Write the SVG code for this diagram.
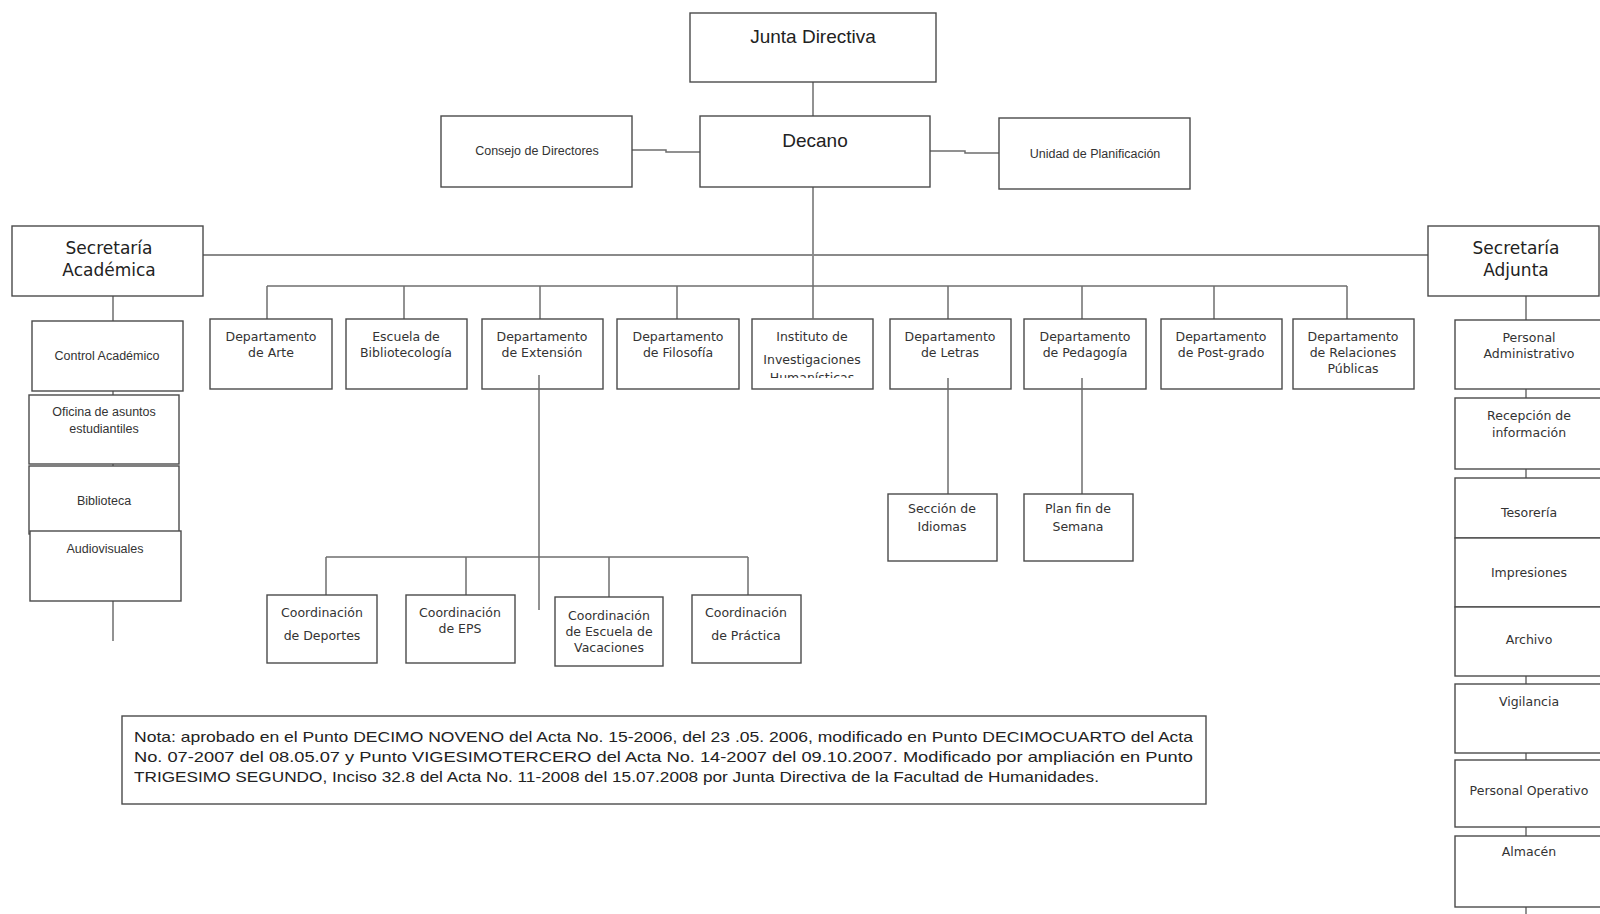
<svg xmlns="http://www.w3.org/2000/svg" width="1600" height="914" viewBox="0 0 1600 914">
<style>
.box{fill:#fff;stroke:#4a4a4a;stroke-width:1.4}
.ln{fill:none;stroke:#6e6e6e;stroke-width:1.5}
.big{stroke:#8a8a8a;stroke-width:2.2}
.dj{font-family:"DejaVu Sans",Verdana,sans-serif;font-size:12.5px;fill:#333;text-anchor:middle}
.ls{font-family:"Liberation Sans",Arial,sans-serif;font-size:12.5px;fill:#333;text-anchor:middle}
.h1{font-family:"Liberation Sans",Arial,sans-serif;font-size:19px;fill:#222;text-anchor:middle}
.h2{font-family:"DejaVu Sans",Verdana,sans-serif;font-size:17px;fill:#222;text-anchor:middle}
.note{font-family:"Liberation Sans",Arial,sans-serif;font-size:14.5px;fill:#222}
</style>
<defs>
<clipPath id="clipInst"><rect x="752" y="319" width="122" height="59"/></clipPath>
</defs>
<rect width="1600" height="914" fill="#fff"/>

<g id="connectors">
<line class="ln" x1="813" y1="82" x2="813" y2="116"/>
<polyline class="ln" points="632,150 666,150 666,152 700,152"/>
<polyline class="ln" points="930,151 965,151 965,153 999,153"/>
<line class="ln" x1="813" y1="187" x2="813" y2="286"/>
<line class="ln big" x1="203" y1="255" x2="1428" y2="255"/>
<line class="ln" x1="267" y1="286" x2="1347" y2="286"/>
<line class="ln" x1="267" y1="286" x2="267" y2="319"/>
<line class="ln" x1="404" y1="286" x2="404" y2="319"/>
<line class="ln" x1="540" y1="286" x2="540" y2="319"/>
<line class="ln" x1="677" y1="286" x2="677" y2="319"/>
<line class="ln" x1="948" y1="286" x2="948" y2="319"/>
<line class="ln" x1="1082" y1="286" x2="1082" y2="319"/>
<line class="ln" x1="1214" y1="286" x2="1214" y2="319"/>
<line class="ln" x1="1347" y1="286" x2="1347" y2="319"/>
<line class="ln" x1="113" y1="296" x2="113" y2="641"/>
<line class="ln" x1="1526" y1="296" x2="1526" y2="914"/>
<line class="ln" x1="326" y1="557" x2="748" y2="557"/>
<line class="ln" x1="326" y1="557" x2="326" y2="595"/>
<line class="ln" x1="466" y1="557" x2="466" y2="595"/>
<line class="ln" x1="609" y1="557" x2="609" y2="597"/>
<line class="ln" x1="748" y1="557" x2="748" y2="595"/>
</g>

<g id="junta"><rect class="box" x="690" y="13" width="246" height="69"/><text class="h1" x="813" y="43">Junta Directiva</text></g>
<g id="decano"><rect class="box" x="700" y="116" width="230" height="71"/><text class="h1" x="815" y="147">Decano</text></g>
<g id="consejo"><rect class="box" x="441" y="116" width="191" height="71"/><text class="ls" x="537" y="155">Consejo de Directores</text></g>
<g id="unidad"><rect class="box" x="999" y="118" width="191" height="71"/><text class="ls" x="1095" y="158">Unidad de Planificación</text></g>

<g id="sec-academica"><rect class="box" x="12" y="226" width="191" height="70"/><text class="h2" x="109" y="254">Secretaría</text><text class="h2" x="109" y="276">Académica</text></g>
<g id="sec-adjunta"><rect class="box" x="1428" y="226" width="171" height="70"/><text class="h2" x="1516" y="254">Secretaría</text><text class="h2" x="1516" y="276">Adjunta</text></g>

<g id="dep-arte"><rect class="box" x="210" y="319" width="122" height="70"/><text class="dj" x="271" y="341">Departamento</text><text class="dj" x="271" y="357">de Arte</text></g>
<g id="esc-biblio"><rect class="box" x="346" y="319" width="121" height="70"/><text class="dj" x="406" y="341">Escuela de</text><text class="dj" x="406" y="357">Bibliotecología</text></g>
<g id="dep-extension"><rect class="box" x="482" y="319" width="121" height="70"/><text class="dj" x="542" y="341">Departamento</text><text class="dj" x="542" y="357">de Extensión</text><line class="ln" x1="539" y1="375" x2="539" y2="610"/></g>
<g id="dep-filosofia"><rect class="box" x="617" y="319" width="122" height="70"/><text class="dj" x="678" y="341">Departamento</text><text class="dj" x="678" y="357">de Filosofía</text></g>
<g id="instituto"><rect class="box" x="752" y="319" width="121" height="70"/><line class="ln" x1="813" y1="286" x2="813" y2="319"/><g clip-path="url(#clipInst)"><text class="dj" x="812" y="341">Instituto de</text><text class="dj" x="812" y="364">Investigaciones</text><text class="dj" x="812" y="382">Humanísticas</text></g></g>
<g id="dep-letras"><rect class="box" x="890" y="319" width="121" height="70"/><text class="dj" x="950" y="341">Departamento</text><text class="dj" x="950" y="357">de Letras</text><line class="ln" x1="948" y1="378" x2="948" y2="494"/></g>
<g id="dep-pedagogia"><rect class="box" x="1024" y="319" width="122" height="70"/><text class="dj" x="1085" y="341">Departamento</text><text class="dj" x="1085" y="357">de Pedagogía</text><line class="ln" x1="1082" y1="378" x2="1082" y2="494"/></g>
<g id="dep-postgrado"><rect class="box" x="1161" y="319" width="121" height="70"/><text class="dj" x="1221" y="341">Departamento</text><text class="dj" x="1221" y="357">de Post-grado</text></g>
<g id="dep-relaciones"><rect class="box" x="1293" y="319" width="121" height="70"/><text class="dj" x="1353" y="341">Departamento</text><text class="dj" x="1353" y="357">de Relaciones</text><text class="dj" x="1353" y="373">Públicas</text></g>

<g id="control"><rect class="box" x="32" y="321" width="151" height="70"/><text class="ls" x="107" y="360">Control Académico</text></g>
<g id="oficina"><rect class="box" x="29" y="395" width="150" height="69"/><text class="ls" x="104" y="416">Oficina de asuntos</text><text class="ls" x="104" y="433">estudiantiles</text></g>
<g id="biblioteca"><rect class="box" x="29" y="466" width="150" height="68"/><text class="ls" x="104" y="505">Biblioteca</text></g>
<g id="audiovisuales"><rect class="box" x="30" y="531" width="151" height="70"/><text class="ls" x="105" y="553">Audiovisuales</text></g>

<g id="seccion-idiomas"><rect class="box" x="888" y="494" width="109" height="67"/><text class="dj" x="942" y="513">Sección de</text><text class="dj" x="942" y="531">Idiomas</text></g>
<g id="plan-fin"><rect class="box" x="1024" y="494" width="109" height="67"/><text class="dj" x="1078" y="513">Plan fin de</text><text class="dj" x="1078" y="531">Semana</text></g>

<g id="coord-deportes"><rect class="box" x="267" y="595" width="110" height="68"/><text class="dj" x="322" y="617">Coordinación</text><text class="dj" x="322" y="640">de Deportes</text></g>
<g id="coord-eps"><rect class="box" x="406" y="595" width="109" height="68"/><text class="dj" x="460" y="617">Coordinación</text><text class="dj" x="460" y="633">de EPS</text></g>
<g id="coord-vacaciones"><rect class="box" x="555" y="597" width="108" height="69"/><text class="dj" x="609" y="620">Coordinación</text><text class="dj" x="609" y="636">de Escuela de</text><text class="dj" x="609" y="652">Vacaciones</text></g>
<g id="coord-practica"><rect class="box" x="692" y="595" width="109" height="68"/><text class="dj" x="746" y="617">Coordinación</text><text class="dj" x="746" y="640">de  Práctica</text></g>

<g id="personal-admin"><rect class="box" x="1455" y="320" width="150" height="69"/><text class="dj" x="1529" y="342">Personal</text><text class="dj" x="1529" y="358">Administrativo</text></g>
<g id="recepcion"><rect class="box" x="1455" y="398" width="150" height="71"/><text class="dj" x="1529" y="420">Recepción de</text><text class="dj" x="1529" y="437">información</text></g>
<g id="tesoreria"><rect class="box" x="1455" y="478" width="150" height="60"/><text class="dj" x="1529" y="517">Tesorería</text></g>
<g id="impresiones"><rect class="box" x="1455" y="538" width="150" height="69"/><text class="dj" x="1529" y="577">Impresiones</text></g>
<g id="archivo"><rect class="box" x="1455" y="607" width="150" height="69"/><text class="dj" x="1529" y="644">Archivo</text></g>
<g id="vigilancia"><rect class="box" x="1455" y="684" width="150" height="69"/><text class="dj" x="1529" y="706">Vigilancia</text></g>
<g id="personal-operativo"><rect class="box" x="1455" y="760" width="150" height="67"/><text class="dj" x="1529" y="795">Personal Operativo</text></g>
<g id="almacen"><rect class="box" x="1455" y="836" width="150" height="71"/><text class="dj" x="1529" y="856">Almacén</text></g>

<g id="nota"><rect class="box" x="122" y="716" width="1084" height="88" stroke="#888"/>
<text class="note" x="134" y="742" textLength="1059" lengthAdjust="spacingAndGlyphs">Nota: aprobado en el Punto DECIMO NOVENO del Acta No. 15-2006, del 23 .05. 2006,  modificado en Punto DECIMOCUARTO del Acta</text>
<text class="note" x="134" y="762" textLength="1059" lengthAdjust="spacingAndGlyphs">No. 07-2007 del 08.05.07 y Punto VIGESIMOTERCERO del Acta No. 14-2007 del 09.10.2007.  Modificado  por ampliación en Punto</text>
<text class="note" x="134" y="782" textLength="965" lengthAdjust="spacingAndGlyphs">TRIGESIMO SEGUNDO, Inciso 32.8 del Acta No. 11-2008 del 15.07.2008 por  Junta Directiva de la Facultad de Humanidades.</text>
</g>
</svg>
